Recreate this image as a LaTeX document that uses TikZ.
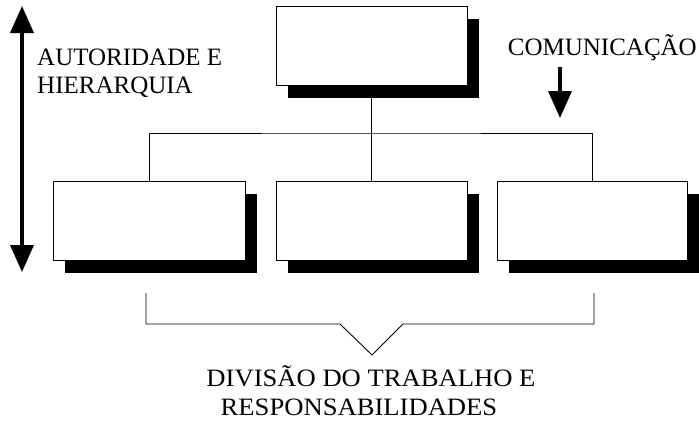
\documentclass[tikz,border=0pt]{standalone}
\usepackage{fontspec}
\setmainfont{Liberation Serif}
\newfontfamily\widefont[FakeStretch=1.065]{Liberation Serif}
\usetikzlibrary{arrows.meta,shadows}
\begin{document}
\begin{tikzpicture}[x=1pt,y=-1pt,
  orgbox/.style={draw=black,line width=0.9pt,fill=white,minimum width=191pt,minimum height=79pt,inner sep=0pt,
    drop shadow={fill=black,opacity=1,shadow xshift=12pt,shadow yshift=-13pt}},
  link/.style={draw=black,line width=0.9pt},
  bigarrow/.style={line width=3.5pt,-{Triangle[length=27pt,width=23pt]}},
  lbl/.style={font=\fontsize{25}{30}\selectfont,inner sep=0pt},
  blbl/.style={font=\widefont\fontsize{25}{30}\selectfont,inner sep=0pt}]
\useasboundingbox (0,0) rectangle (699,424);
% boxes
\node[orgbox] (top) at (371.5,45.5) {};
\node[orgbox,minimum width=192pt] (b1) at (149,220.5) {};
\node[orgbox] (b2) at (371.5,220.5) {};
\node[orgbox,minimum width=190pt] (b3) at (592,220.5) {};
% connectors
\coordinate (j) at (371.5,133);
\draw[link] (top.south) -- (b2.north);
\draw[link] (b1.north) |- (j) -| (b3.north);
% authority arrow
\coordinate (atop) at (22,6);
\coordinate (abot) at (22,272);
\draw[bigarrow,{Triangle[length=27pt,width=23pt]}-{Triangle[length=27pt,width=23pt]}] (atop) -- (abot);
\node[lbl,anchor=base west] (aut) at (37,65) {AUTORIDADE E};
\node[lbl,anchor=base west] (hie) at (37,93) {HIERARQUIA};
% communication
\node[lbl,anchor=base east] (com) at (697,55) {COMUNICAÇÃO};
\coordinate (cstart) at (560,67);
\coordinate (cend) at (560,118);
\draw[bigarrow] (cstart) -- (cend);
% bracket
\coordinate (k1) at (146,293);
\coordinate (k2) at (146,324);
\coordinate (k3) at (340,324);
\coordinate (k4) at (372,355);
\coordinate (k5) at (403,324);
\coordinate (k6) at (594,324);
\coordinate (k7) at (594,293);
\draw[link,line join=miter] (k1) -- (k2) -- (k3) -- (k4) -- (k5) -- (k6) -- (k7);
\node[blbl,anchor=base] (div) at (371,386) {DIVISÃO DO TRABALHO E};
\node[blbl,anchor=base] (res) at (359,415) {RESPONSABILIDADES};
\end{tikzpicture}
\end{document}
